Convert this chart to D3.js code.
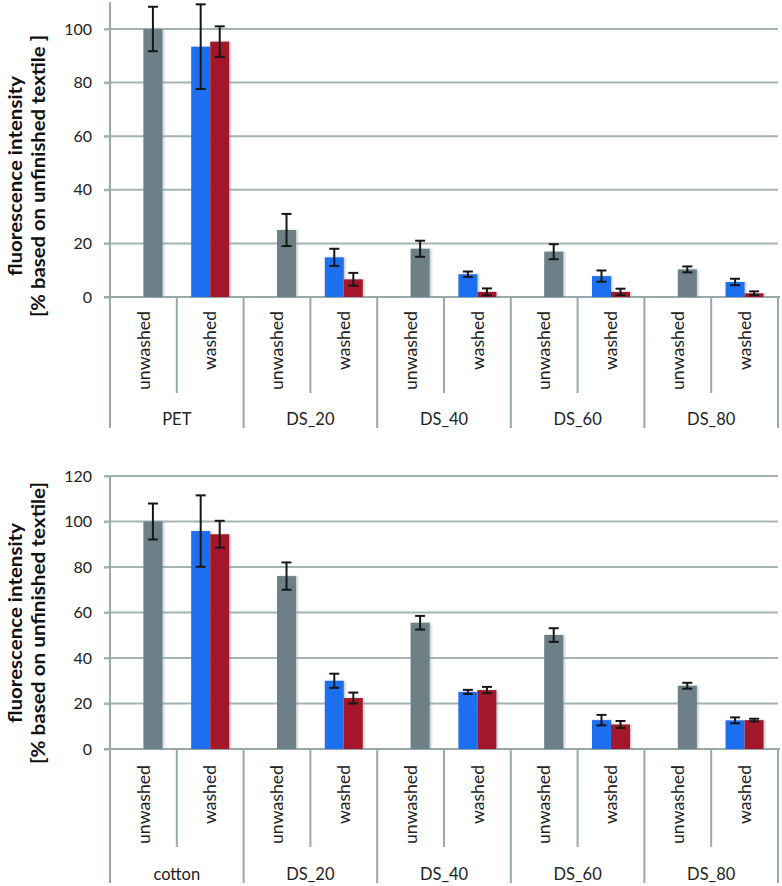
<!DOCTYPE html>
<html>
<head>
<meta charset="utf-8">
<script src="https://cdn.jsdelivr.net/npm/d3@7"></script>
<style>
  html, body { margin: 0; padding: 0; background: #ffffff; }
  svg { display: block; font-family: Lato, "Open Sans", sans-serif; }
</style>
</head>
<body>
<svg id="chart" width="782" height="886"></svg>
<script>
// ---------------- DATA ----------------
const conditions = ["unwashed", "washed"];
const groupsTop = ["PET", "DS_20", "DS_40", "DS_60", "DS_80"];
const groupsBottom = ["cotton", "DS_20", "DS_40", "DS_60", "DS_80"];

const ticksTop = [0, 20, 40, 60, 80, 100];
const ticksBottom = [0, 20, 40, 60, 80, 100, 120];

// top chart (PET based)
const unwashedTop    = [100, 25.0, 18.0, 16.9, 10.3];
const unwashedTopErr = [8.3, 6.0, 3.0, 2.8, 1.1];
const washedBlueTop    = [93.4, 14.8, 8.5, 7.8, 5.6];
const washedBlueTopErr = [15.8, 3.2, 1.0, 2.1, 1.2];
const washedRedTop    = [95.3, 6.6, 1.9, 1.9, 1.4];
const washedRedTopErr = [5.7, 2.4, 1.3, 1.2, 0.7];

// bottom chart (cotton based)
const unwashedBottom    = [100, 76.0, 55.5, 50.1, 27.8];
const unwashedBottomErr = [7.9, 6.0, 3.0, 3.0, 1.3];
const washedBlueBottom    = [95.8, 30.0, 25.1, 12.7, 12.6];
const washedBlueBottomErr = [15.7, 3.1, 0.9, 2.3, 1.3];
const washedRedBottom    = [94.4, 22.4, 25.9, 10.8, 12.7];
const washedRedBottomErr = [5.9, 2.4, 1.4, 1.5, 0.6];

const titleLine1 = "fluorescence intensity";
const titleLine2Top = "[% based on unfinished textile ]";
const titleLine2Bottom = "[% based on unfinished textile]";

// ---------------- STYLE ----------------
const COL_GRAY = "#6d8088";
const COL_BLUE = "#1f6ff0";
const COL_RED  = "#a4192b";
const COL_GRID = "#a3b3b6";
const COL_AXIS = "#98a8ab";

const svg = d3.select("#chart");

const defs = svg.append("defs");
const f = defs.append("filter").attr("id", "shadow")
  .attr("x", "-20%").attr("y", "-5%").attr("width", "140%").attr("height", "110%");
f.append("feDropShadow").attr("dx", 1.5).attr("dy", 0).attr("stdDeviation", 1.2)
  .attr("flood-color", "#8a9a9e").attr("flood-opacity", 0.55);

function drawChart(cfg) {
  const g = svg.append("g");
  const cats = [];
  cfg.groups.forEach(gr => conditions.forEach(c => cats.push(gr + "|" + c)));

  const x = d3.scaleBand().domain(cats).range([cfg.left, cfg.right]).padding(0);
  const y = d3.scaleLinear().domain(cfg.domain).range([cfg.y0, cfg.yTop]);
  const bw = x.bandwidth();
  const barW = bw * 0.285;
  const cx = k => x(k) + bw / 2;

  // gridlines
  g.append("g").selectAll("line").data(cfg.ticks.filter(t => t > 0)).join("line")
    .attr("x1", cfg.left - 6).attr("x2", cfg.right)
    .attr("y1", d => y(d)).attr("y2", d => y(d))
    .attr("stroke", COL_GRID).attr("stroke-width", 2);

  // y axis with labels
  const ax = g.append("g").attr("transform", `translate(${cfg.left},0)`)
    .call(d3.axisLeft(y).tickValues(cfg.ticks).tickSize(6).tickPadding(12).tickFormat(d3.format("d")));
  ax.select(".domain").remove();
  ax.selectAll(".tick line").attr("stroke", COL_GRID).attr("stroke-width", 2);
  ax.selectAll(".tick text").attr("font-size", 16).attr("fill", "#222")
    .attr("font-family", "Lato, 'Open Sans', sans-serif");

  // y axis line (continues down through label zone)
  g.append("line").attr("x1", cfg.left).attr("x2", cfg.left)
    .attr("y1", y(cfg.domain[1])).attr("y2", cfg.outerEnd)
    .attr("stroke", COL_AXIS).attr("stroke-width", 2);

  // x axis line
  g.append("line").attr("x1", cfg.left - 6).attr("x2", cfg.right + 2)
    .attr("y1", y(0)).attr("y2", y(0))
    .attr("stroke", COL_AXIS).attr("stroke-width", 2);

  // separators
  const bounds = cats.map((k, i) => ({ x: x(k) + bw, inner: i % 2 === 0 }));
  g.append("g").selectAll("line").data(bounds).join("line")
    .attr("x1", d => d.x).attr("x2", d => d.x)
    .attr("y1", y(0)).attr("y2", d => d.inner ? cfg.innerEnd : cfg.outerEnd)
    .attr("stroke", COL_AXIS).attr("stroke-width", 2);

  // bars
  const bars = [];
  cfg.groups.forEach((gr, i) => {
    bars.push({ k: gr + "|unwashed", v: cfg.gray[i], e: cfg.grayErr[i], off: 0, col: COL_GRAY });
    bars.push({ k: gr + "|washed", v: cfg.blue[i], e: cfg.blueErr[i], off: -1, col: COL_BLUE });
    bars.push({ k: gr + "|washed", v: cfg.red[i], e: cfg.redErr[i], off: 0, col: COL_RED });
  });
  g.append("g").selectAll("rect").data(bars).join("rect")
    .attr("x", d => cx(d.k) + d.off * barW)
    .attr("width", barW)
    .attr("y", d => y(d.v))
    .attr("height", d => y(0) - y(d.v))
    .attr("fill", d => d.col)
    .attr("filter", "url(#shadow)");

  // error bars
  const eg = g.append("g").attr("stroke", "#161616").attr("stroke-width", 2);
  const ecx = d => cx(d.k) + d.off * barW + barW / 2;
  eg.selectAll("line.v").data(bars).join("line").attr("class", "v")
    .attr("x1", ecx).attr("x2", ecx)
    .attr("y1", d => y(d.v + d.e)).attr("y2", d => y(Math.max(0, d.v - d.e)));
  eg.selectAll("line.t").data(bars).join("line").attr("class", "t")
    .attr("x1", d => ecx(d) - 5).attr("x2", d => ecx(d) + 5)
    .attr("y1", d => y(d.v + d.e)).attr("y2", d => y(d.v + d.e));
  eg.selectAll("line.b").data(bars).join("line").attr("class", "b")
    .attr("x1", d => ecx(d) - 5).attr("x2", d => ecx(d) + 5)
    .attr("y1", d => y(Math.max(0, d.v - d.e))).attr("y2", d => y(Math.max(0, d.v - d.e)));

  // rotated category labels
  g.append("g").selectAll("text").data(cats).join("text")
    .attr("transform", k => `translate(${cx(k)},${cfg.labelTop}) rotate(-90)`)
    .attr("text-anchor", "end").attr("dy", "0.35em")
    .attr("font-size", 17.5).attr("fill", "#222")
    .attr("textLength", k => k.endsWith("unwashed") ? 79 : 59)
    .attr("lengthAdjust", "spacingAndGlyphs")
    .text(k => k.split("|")[1]);

  // group labels
  g.append("g").selectAll("text").data(cfg.groups).join("text")
    .attr("x", gr => (x(gr + "|unwashed") + x(gr + "|washed") + bw) / 2)
    .attr("y", cfg.groupBaseline)
    .attr("text-anchor", "middle")
    .attr("font-size", 16.5).attr("fill", "#222")
    .text(d => d);

  // y title
  const t = g.append("g").attr("font-weight", "bold").attr("font-size", 19.5).attr("fill", "#111");
  t.append("text").attr("transform", `translate(22,${cfg.titleY}) rotate(-90)`)
    .attr("text-anchor", "middle").attr("textLength", 200).attr("lengthAdjust", "spacingAndGlyphs")
    .text(titleLine1);
  t.append("text").attr("transform", `translate(45,${cfg.titleY}) rotate(-90)`)
    .attr("text-anchor", "middle").attr("textLength", cfg.line2Len).attr("lengthAdjust", "spacingAndGlyphs")
    .text(cfg.line2);
}

drawChart({
  groups: groupsTop, ticks: ticksTop, domain: [0, 110],
  left: 110, right: 778, y0: 297, yTop: 2.2,
  innerEnd: 393, outerEnd: 428, labelTop: 311, groupBaseline: 425,
  gray: unwashedTop, grayErr: unwashedTopErr,
  blue: washedBlueTop, blueErr: washedBlueTopErr,
  red: washedRedTop, redErr: washedRedTopErr,
  titleY: 176, line2: titleLine2Top, line2Len: 282
});

drawChart({
  groups: groupsBottom, ticks: ticksBottom, domain: [0, 120],
  left: 110, right: 778, y0: 749, yTop: 476,
  innerEnd: 847, outerEnd: 883, labelTop: 765, groupBaseline: 880,
  gray: unwashedBottom, grayErr: unwashedBottomErr,
  blue: washedBlueBottom, blueErr: washedBlueBottomErr,
  red: washedRedBottom, redErr: washedRedBottomErr,
  titleY: 623, line2: titleLine2Bottom, line2Len: 282
});
</script>
</body>
</html>
